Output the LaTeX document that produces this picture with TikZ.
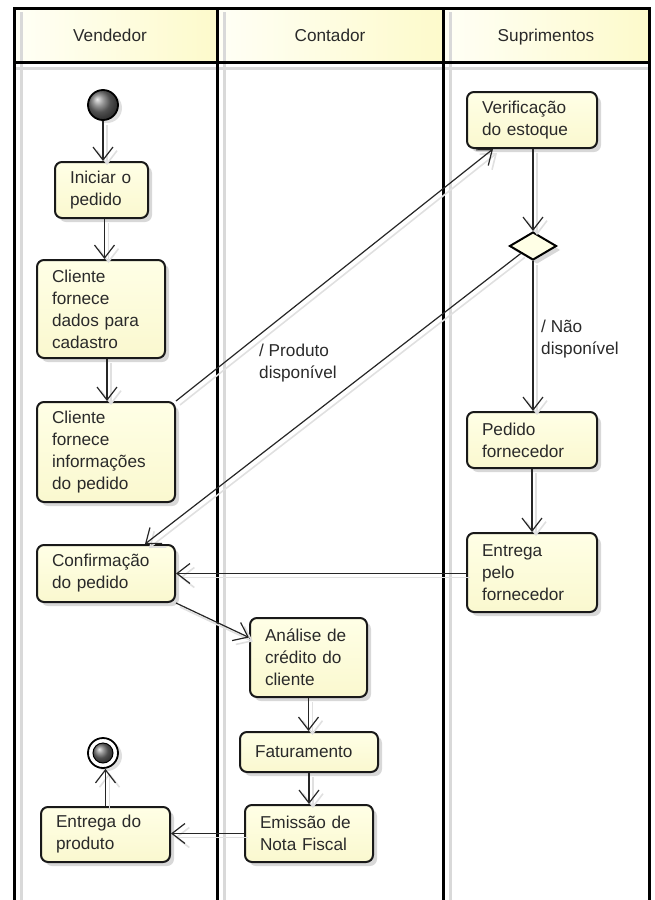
\documentclass[tikz,border=0pt]{standalone}
\usepackage{fontspec}
\setmainfont{Liberation Sans}
\usetikzlibrary{arrows.meta,shapes.geometric,shadows,calc}
\definecolor{actTop}{HTML}{FFFFE6}
\definecolor{actBot}{HTML}{FAF8CF}
\definecolor{hdrL}{HTML}{FFFFF6}
\definecolor{hdrR}{HTML}{FDFACB}
\definecolor{inkc}{HTML}{2A2A2A}
\newcommand{\boxfont}{\fontsize{17.2}{22}\selectfont}
\begin{document}
\begin{tikzpicture}[x=1pt,y=-1pt,
  lane/.style={draw=black, line width=3pt},
  laneshadow/.style={draw=black!15, line width=3pt},
  act/.style={draw=black!90, line width=2pt, rounded corners=7pt,
    top color=actTop, bottom color=actBot, align=left, inner xsep=15pt, inner ysep=2pt,
    font=\boxfont, text=inkc,
    drop shadow={shadow xshift=4pt, shadow yshift=-4pt, fill=black!30, opacity=0.5}},
  lbl/.style={align=left, inner sep=0pt, font=\boxfont, text=inkc},
  hdr/.style={font=\boxfont, text=inkc, text height=12pt, text depth=4pt},
  hdrfill/.style={left color=hdrL, right color=hdrR},
  flow/.style={draw=black!85, line width=1.2pt, -{Straight Barb[length=13pt,width=20pt]},
    preaction={draw=black!12, line width=1.6pt, transform canvas={shift={(4pt,-4pt)}}}}
]
\useasboundingbox (0,0) rectangle (655,900);
% header
\shade[hdrfill] (14,8) rectangle (217,62);
\shade[hdrfill] (217,8) rectangle (443,62);
\shade[hdrfill] (443,8) rectangle (649,62);
% lane shadows
\draw[laneshadow] (14,68) -- (649,68);
\draw[laneshadow] (21,12) -- (21,900);
\draw[laneshadow] (224,12) -- (224,900);
\draw[laneshadow] (450,12) -- (450,900);
% lanes
\draw[lane] (14,900) -- (14,8) -- (649,8) -- (649,900);
\draw[lane] (14,62) -- (649,62);
\draw[lane] (217,8) -- (217,900);
\draw[lane] (443,8) -- (443,900);
\node[hdr] (hv) at (110,37) {Vendedor};
\node[hdr] (hc) at (330,37) {Contador};
\node[hdr] (hs) at (546,37) {Suprimentos};

% start / end
\node[circle, draw=black, line width=1.8pt, ball color=black!55, minimum size=30pt, inner sep=0pt,
  drop shadow={shadow xshift=4pt, shadow yshift=-3pt, fill=black!25, opacity=0.5}] (init) at (103,105) {};
\node[circle, draw=black, line width=1.8pt, fill=white, minimum size=30pt, inner sep=0pt,
  drop shadow={shadow xshift=4pt, shadow yshift=-3pt, fill=black!25, opacity=0.5}] (final) at (103,753) {};
\node[circle, draw=black, line width=1pt, ball color=black!55, minimum size=20pt, inner sep=0pt] (finalin) at (final) {};

% activities
\node[act, text width=63pt, minimum height=56pt] (iniciar) at (101.5,190) {Iniciar o\\pedido};
\node[act, text width=98pt, minimum height=98pt] (dados) at (101,309) {Cliente\\fornece\\dados para\\cadastro};
\node[act, text width=108pt, minimum height=100pt] (info) at (106,452) {Cliente\\fornece\\informações\\do pedido};
\node[act, text width=108pt, minimum height=57pt] (confirm) at (106,573.5) {Confirmação\\do pedido};
\node[act, text width=87pt, minimum height=79pt] (analise) at (308.5,657.5) {Análise de\\crédito do\\cliente};
\node[act, text width=108pt, minimum height=40pt] (fatur) at (309,752) {Faturamento};
\node[act, text width=98pt, minimum height=57pt] (emissao) at (309,833.5) {Emissão de\\Nota Fiscal};
\node[act, text width=99pt, minimum height=55pt] (entrega) at (105.5,834.5) {Entrega do\\produto};
\node[act, text width=100pt, minimum height=56pt] (verif) at (532,120) {Verificação\\do estoque};
\node[diamond, draw=black, line width=2pt, fill=actTop, minimum width=47pt, minimum height=28pt, inner sep=0pt,
  drop shadow={shadow xshift=4pt, shadow yshift=-4pt, fill=black!30, opacity=0.5}] (dia) at (533,246) {};
\node[act, text width=100pt, minimum height=56pt] (pedido) at (532,440) {Pedido\\fornecedor};
\node[act, text width=100pt, minimum height=79pt] (entregaF) at (532,572.5) {Entrega\\pelo\\fornecedor};

% labels
\node[lbl, anchor=west] (lblnd) at (541,339) {/ Não\\disponível};
\node[lbl, anchor=west] (lblpd) at (259,363) {/ Produto\\disponível};

% flows
\draw[flow] (init.south) -- (init.south |- iniciar.north);
\draw[flow] ([xshift=3pt]iniciar.south) -- ([xshift=3pt]iniciar.south |- dados.north);
\draw[flow] ([xshift=6pt]dados.south) -- ([xshift=6pt]dados.south |- info.north);
\draw[flow] (info.north east) -- ([xshift=-39pt]verif.south);
\draw[flow] (verif.south -| dia) -- (dia.north);
\draw[flow] (dia.south west) -- ([xshift=39pt]confirm.north);
\draw[flow] (dia.south) -- (dia.south |- pedido.north);
\draw[flow] (pedido.south) -- (entregaF.north);
\draw[flow] (entregaF.west |- confirm.east) -- (confirm.east);
\draw[flow] (confirm.south east) -- ([yshift=20pt]analise.west);
\draw[flow] (analise.south) -- (analise.south |- fatur.north);
\draw[flow] (fatur.south) -- (fatur.south |- emissao.north);
\draw[flow] (emissao.west) -- (emissao.west -| entrega.east);
\draw[flow] (entrega.north) -- (entrega.north |- final.south);
\end{tikzpicture}
\end{document}
